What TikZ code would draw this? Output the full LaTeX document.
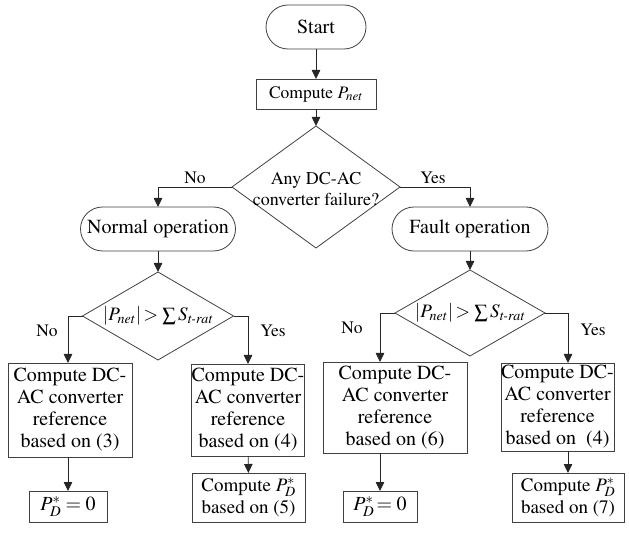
\documentclass[tikz,border=0pt]{standalone}
\usepackage[T1]{fontenc}
\usepackage{amsmath}
\usepackage{mathptmx}
\usetikzlibrary{shapes.geometric,arrows.meta}

\newcommand{\Pnet}{P_{net}}
\newcommand{\PDstar}{P_{D}^{*}}

\tikzset{
  term/.style={draw=black!75, rectangle, rounded corners=22pt, minimum height=44pt, inner sep=0pt, outer sep=0pt, font=\fontsize{20}{22}\selectfont},
  proc/.style={draw=black!75, rectangle, inner sep=0pt, outer sep=0pt, align=center, font=\fontsize{20}{22}\selectfont},
  decide/.style={draw=black!75, diamond, inner sep=0pt, outer sep=0pt},
  flow/.style={draw=black!85, -{Triangle[length=9pt,width=8.5pt]}},
  lbl/.style={font=\fontsize{17.5}{20}\selectfont, inner sep=0pt}
}

\begin{document}
\begin{tikzpicture}[x=1pt, y=-1pt, line width=0.8pt]
    \useasboundingbox (0,0) rectangle (629,534);
    \node [term, minimum width=100pt] (1-1) at (316,27) {Start};
    \node [proc, minimum width=120pt, minimum height=30pt, font=\fontsize{17.5}{20}\selectfont] (2-1) at (316,94) {Compute $\Pnet$};
    \node [decide, minimum width=168pt, minimum height=122pt] (3-1) at (316,187) {};
    \node [align=center, font=\fontsize{18}{21}\selectfont] (3-2) at (316,189) {Any DC-AC\\converter failure?};
    \node [term, minimum width=155pt] (4-1) at (158,229) {Normal operation};
    \node [term, minimum width=156pt] (4-2) at (470,229) {Fault operation};
    \node [decide, minimum width=151pt, minimum height=88pt] (5-1) at (158,316) {};
    \node [font=\fontsize{19}{22}\selectfont] (5-3) at (158,316) {$|\Pnet|\! > \sum S_{\textit{t-rat}}$};
    \node [decide, minimum width=150pt, minimum height=86pt] (5-2) at (470,313) {};
    \node [font=\fontsize{19}{22}\selectfont] (5-4) at (470,313) {$|\Pnet|\! > \sum S_{\textit{t-rat}}$};
    \node [proc, minimum width=124pt, minimum height=94pt] (6-1) at (70,410) {Compute DC-\\AC converter\\reference\\based on (3)};
    \node [proc, minimum width=112pt, minimum height=92pt] (6-2) at (248,410) {Compute DC-\\AC converter\\reference\\based on (4)};
    \node [proc, minimum width=144pt, minimum height=91pt] (6-3) at (395,407.5) {Compute DC-\\AC converter\\reference\\based on (6)};
    \node [proc, minimum width=113pt, minimum height=88pt] (6-4) at (557.5,407) {Compute DC-\\AC converter\\reference\\based on~ (4)};
    \node [proc, minimum width=78pt, minimum height=31pt] (7-1) at (68,506.5) {$\PDstar = 0$};
    \node [proc, minimum width=113pt, minimum height=49pt, font=\fontsize{19}{22}\selectfont] (7-2) at (248.5,497.5) {Compute $\PDstar$\\based on (5)};
    \node [proc, minimum width=74pt, minimum height=31pt] (7-3) at (380,506.5) {$\PDstar\!= 0$};
    \node [proc, minimum width=112pt, minimum height=49pt, font=\fontsize{19}{22}\selectfont] (7-4) at (568,497.5) {Compute $\PDstar$\\based on (7)};
    \node [lbl] (n-1) at (195,178) {No};
    \node [lbl] (y-1) at (433,178) {Yes};
    \node [lbl] (n-2) at (47,331) {No};
    \node [lbl] (y-2) at (273,331) {Yes};
    \node [lbl] (n-3) at (352,328) {No};
    \node [lbl] (y-3) at (593,330) {Yes};
    \draw [flow] (1-1) -- (2-1);
    \draw [flow] (2-1) -- (3-1);
    \draw [flow] (3-1.west) -| (4-1);
    \draw [flow] (3-1.east) -| (4-2);
    \draw [flow] (4-1) -- (5-1);
    \draw [flow] (4-2) -- (5-2);
    \draw [flow] (5-1.west) -| (6-1.north -| 7-1.north);
    \draw [flow] (5-1.east) -| (6-2);
    \draw [flow] (5-2.west) -| (6-3.north -| 7-3.north);
    \draw [flow] (5-2.east) -| (6-4.north -| 7-4.north);
    \draw [flow] (6-1.south -| 7-1.north) -- (7-1);
    \draw [flow] (6-2) -- (7-2);
    \draw [flow] (6-3.south -| 7-3.north) -- (7-3);
    \draw [flow] (6-4.south -| 7-4.north) -- (7-4);
\end{tikzpicture}
\end{document}
